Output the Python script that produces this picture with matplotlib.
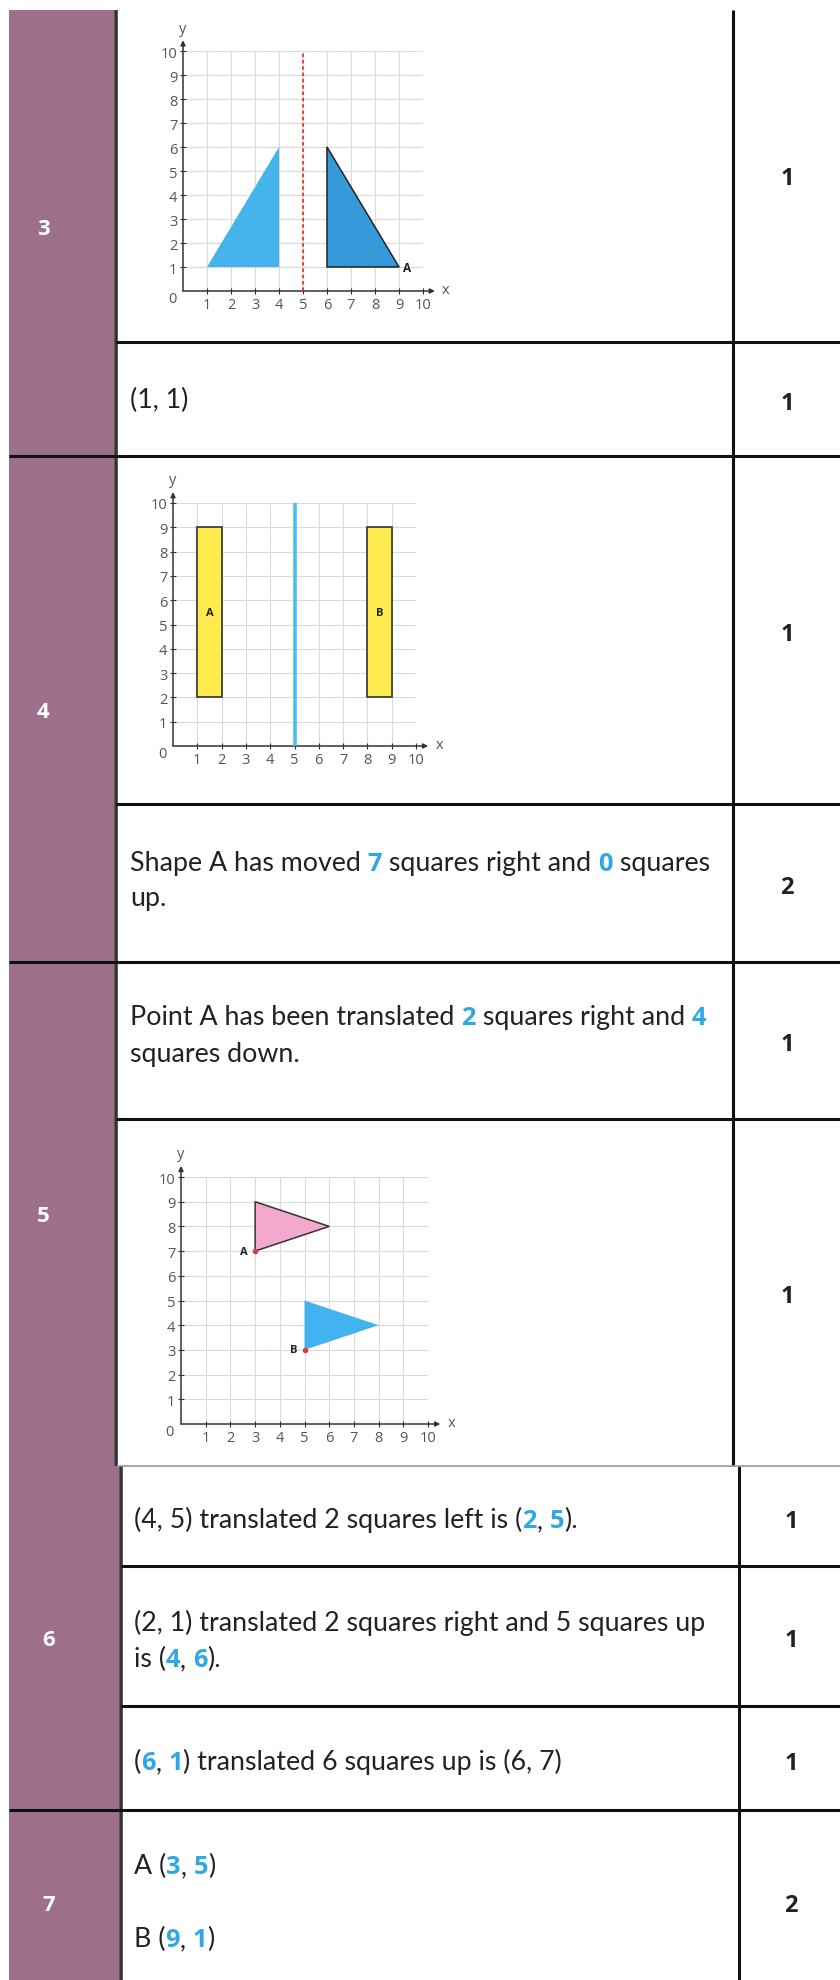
import re
import matplotlib
matplotlib.use('Agg')
import matplotlib.pyplot as plt
from matplotlib.patches import Polygon, Rectangle

# ---- data ----
grid_ticks = list(range(1, 11))

# question 3 : reflection in x = 5
q3_shape = [(1, 1), (4, 1), (4, 6)]
q3_image = [(6, 1), (9, 1), (6, 6)]
q3_mirror_x = 5
q3_point_a = (9, 1)

# question 4 : two rectangles and a mirror line
q4_rect_a_x = [1, 2]
q4_rect_a_y = [2, 9]
q4_rect_b_x = [8, 9]
q4_rect_b_y = [2, 9]
q4_mirror_x = 5

# question 5 : translated triangles
q5_tri_a = [(3, 7), (3, 9), (6, 8)]
q5_tri_b = [(5, 3), (5, 5), (8, 4)]
q5_point_a = (3, 7)
q5_point_b = (5, 3)

question_numbers = ['3', '4', '5', '6', '7']
marks = ['1', '1', '1', '2', '1', '1', '1', '1', '1', '2']

# {..} marks the part of the answer shown in blue
answer_lines = [
    "(1, 1)",
    "Shape A has moved {7} squares right and {0} squares",
    "up.",
    "Point A has been translated {2} squares right and {4}",
    "squares down.",
    "(4, 5) translated 2 squares left is ({2}, {5}).",
    "(2, 1) translated 2 squares right and 5 squares up",
    "is ({4}, {6}).",
    "({6}, {1}) translated 6 squares up is (6, 7)",
    "A ({3}, {5})",
    "B ({9}, {1})",
]

# ---- layout (pixels) ----
W, H = 840, 1981
PURPLE = '#9d6f8b'
BLUE = '#2ea8e5'
INK = '#222222'
BOLD_FAMILY = ['Open Sans', 'DejaVu Sans']

answer_pos = [(130, 408), (130, 871), (130, 906), (130, 1025), (130, 1062),
              (134, 1528), (134, 1631), (134, 1667), (134, 1770),
              (134, 1874), (134, 1947)]
qnum_pos = [(43, 235), (43, 718), (43, 1222), (49, 1646), (49, 1911)]
mark_pos = [(787, 184), (787, 409), (787, 640), (787, 893), (787, 1050),
            (787, 1302), (791, 1527), (791, 1646), (791, 1769), (791, 1911)]

plt.rcParams['font.family'] = ['Lato', 'DejaVu Sans']

fig = plt.figure(figsize=(W / 100, H / 100), dpi=100, facecolor='white')
bg = fig.add_axes([0, 0, 1, 1])
bg.set_xlim(0, W)
bg.set_ylim(H, 0)
bg.axis('off')

# purple question column (lower block sits a few px further right)
bg.add_patch(Rectangle((9, 11), 105, 1456, color=PURPLE, lw=0))
bg.add_patch(Rectangle((9, 1467), 110, 514, color=PURPLE, lw=0))
bg.plot([116, 116], [11, 1467], color='#333333', lw=2.6, solid_capstyle='butt')
bg.plot([121, 121], [1467, H], color='#333333', lw=2.6, solid_capstyle='butt')

# marks column divider
bg.plot([733, 733], [11, 1467], color='#111111', lw=2.2, solid_capstyle='butt')
bg.plot([739, 739], [1467, H], color='#111111', lw=2.2, solid_capstyle='butt')

# row separators
for y, x0 in [(343, 116), (457, 9), (805, 116), (963, 9), (1120, 116),
              (1567, 121), (1707, 121), (1811, 9)]:
    bg.plot([x0, W], [y, y], color='#111111', lw=2.2, solid_capstyle='butt')
bg.plot([118, W], [1467, 1467], color='#9a9a9a', lw=1.2)

renderer = fig.canvas.get_renderer()


def text_width(s, **kw):
    t = bg.text(0, 0, s + '|', **kw)
    w1 = t.get_window_extent(renderer).width
    t.remove()
    t = bg.text(0, 0, '|', **kw)
    w2 = t.get_window_extent(renderer).width
    t.remove()
    return w1 - w2


def rich_line(x, y, line, size=19.3):
    for part in re.split(r'(\{[^}]*\})', line):
        if not part:
            continue
        if part.startswith('{'):
            kw = dict(fontsize=size - 1, color=BLUE, fontweight='bold',
                      family=BOLD_FAMILY)
            part = part[1:-1]
        else:
            kw = dict(fontsize=size, color=INK)
        bg.text(x, y, part, va='baseline', ha='left', **kw)
        x += text_width(part, **kw)


for (x, y), line in zip(answer_pos, answer_lines):
    rich_line(x, y, line)

for (x, y), q in zip(qnum_pos, question_numbers):
    bg.text(x, y, q, color='white', fontsize=16, fontweight='bold',
            family=BOLD_FAMILY, ha='center', va='baseline')

for (x, y), m in zip(mark_pos, marks):
    bg.text(x, y + 1, m, color=INK, fontsize=17, fontweight='bold',
            family=BOLD_FAMILY, ha='center', va='baseline')


# ---- coordinate grids ----
def grid_axes(x0, y0, unit):
    ax = fig.add_axes([x0 / W, 1 - y0 / H, 10 * unit / W, 10 * unit / H])
    ax.set_xlim(0, 10)
    ax.set_ylim(0, 10)
    ax.patch.set_alpha(0)
    for s in ax.spines.values():
        s.set_visible(False)
    ax.set_xticks(grid_ticks)
    ax.set_yticks(grid_ticks)
    ax.tick_params(direction='inout', length=5, width=0.8, color='#333333',
                   labelsize=10.5, labelcolor='#555555', pad=1.5)
    for lbl in ax.get_xticklabels() + ax.get_yticklabels():
        lbl.set_fontfamily('Open Sans')
    ax.grid(color='#dadada', lw=0.8)
    ax.set_axisbelow(True)
    arrow = dict(arrowstyle='-|>', color='#333333', lw=1.1,
                 mutation_scale=7, shrinkA=0, shrinkB=0)
    ax.annotate('', xy=(0, 10.45), xytext=(0, 0), arrowprops=arrow,
                annotation_clip=False)
    ax.annotate('', xy=(10.5, 0), xytext=(0, 0), arrowprops=arrow,
                annotation_clip=False)
    lab = dict(color='#555555', fontsize=10.5, family='Open Sans',
               ha='center', va='center')
    ax.text(-0.45, -0.3, '0', **lab)
    ax.text(0, 10.95, 'y', **lab)
    ax.text(10.95, 0.05, 'x', **lab)
    return ax


# question 3
ax3 = grid_axes(183, 292, 24.0)
ax3.add_patch(Polygon(q3_shape, closed=True, fc='#45b4ec', ec='none', zorder=3))
ax3.add_patch(Polygon(q3_image, closed=True, fc='#3699da', ec='#222222',
                      lw=1.1, zorder=3))
ax3.plot([q3_mirror_x, q3_mirror_x], [0, 10], color='#e53935', lw=1.3,
         ls=(0, (2, 1.5)), zorder=4)
ax3.text(q3_point_a[0] + 0.15, q3_point_a[1], 'A', fontsize=8.5,
         fontweight='bold', family=BOLD_FAMILY, color='#222222',
         ha='left', va='center')

# question 4
ax4 = grid_axes(173, 747, 24.3)
for xs, ys, name in [(q4_rect_a_x, q4_rect_a_y, 'A'),
                     (q4_rect_b_x, q4_rect_b_y, 'B')]:
    ax4.add_patch(Rectangle((xs[0], ys[0]), xs[1] - xs[0], ys[1] - ys[0],
                            fc='#ffeb4d', ec='#333333', lw=1.2, zorder=3))
    ax4.text((xs[0] + xs[1]) / 2, (ys[0] + ys[1]) / 2, name, fontsize=8,
             fontweight='bold', family=BOLD_FAMILY, color='#222222',
             ha='center', va='center', zorder=4)
ax4.plot([q4_mirror_x, q4_mirror_x], [0, 10], color='#4cbdf0', lw=2.6,
         solid_capstyle='butt', zorder=4)

# question 5
ax5 = grid_axes(181, 1425, 24.7)
ax5.add_patch(Polygon(q5_tri_a, closed=True, fc='#f2a9cd', ec='#333333',
                      lw=1.1, zorder=3))
ax5.add_patch(Polygon(q5_tri_b, closed=True, fc='#42b3ee', ec='none', zorder=3))
for (px, py), name in [(q5_point_a, 'A'), (q5_point_b, 'B')]:
    ax5.plot([px], [py], 'o', ms=3, color='#e53935', zorder=5)
    ax5.text(px - 0.3, py, name, fontsize=8, fontweight='bold',
             family=BOLD_FAMILY, color='#222222', ha='right', va='center')

fig.savefig('out.png', dpi=100, facecolor='white')
